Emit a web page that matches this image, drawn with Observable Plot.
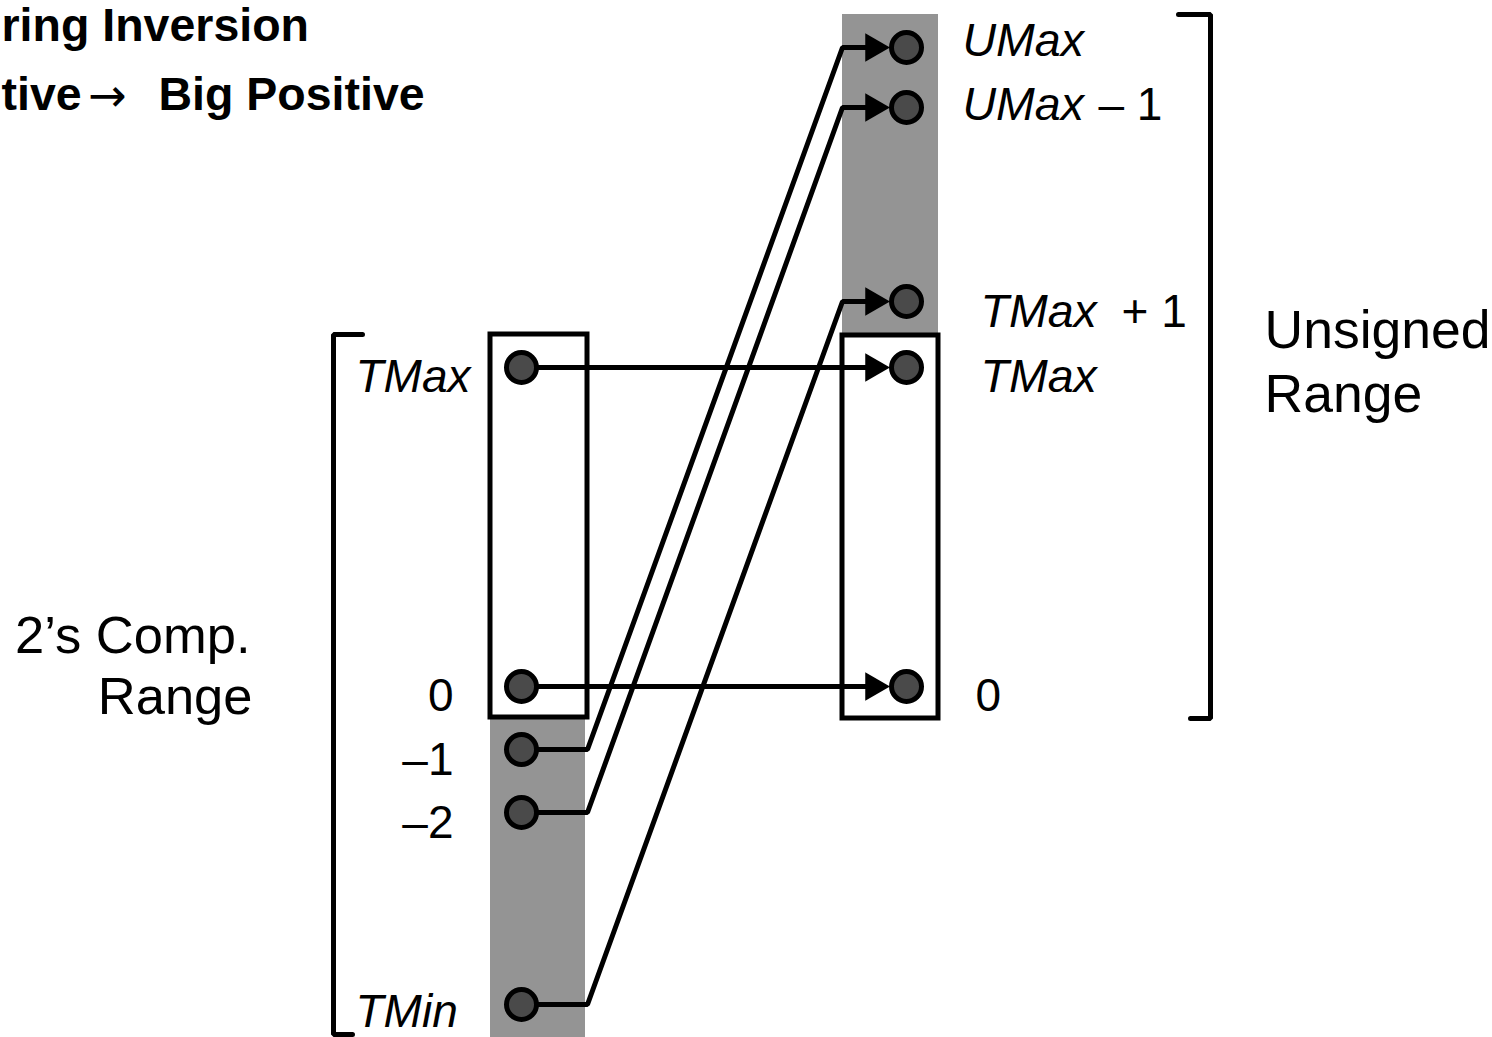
<!DOCTYPE html>
<html>
<head>
<meta charset="utf-8">
<script src="https://cdn.jsdelivr.net/npm/d3@7"></script>
<script src="https://cdn.jsdelivr.net/npm/@observablehq/plot@0.6"></script>
<style>
  html, body { margin: 0; padding: 0; background: #fff; overflow: hidden; }
</style>
</head>
<body>
<div id="chart"></div>
<script>
// ---- Data (diagram units, y grows downward) ----
const titleWords = ["ring Inversion", "tive", "\u2192", "Big Positive"];

// two's-complement column (left)
const leftNames  = ["TMax", "0", "\u20131", "\u20132", "TMin"];
const leftLevels = [367, 686, 749, 812, 1004];
const leftLabelY = [391, 710, 774, 837, 1026];

// unsigned column (right)
const rightNames  = ["UMax", "UMax", "TMax", "TMax", "0"];
const rightSuffix = ["", "\u2013 1", "+ 1", "", ""];
const rightLevels = [47, 107, 301, 367, 686];
const rightLabelY = [55, 119, 326, 391, 710];

// mapping: left index -> right index
const mapFrom = [0, 1, 2, 3, 4];
const mapTo   = [3, 4, 0, 1, 2];

// range labels
const rangeLabels = ["2\u2019s Comp.", "Range", "Unsigned", "Range"];

// ---- Layout (diagram units) ----
const W = 1492, H = 1037;
const L = {leftX: 521, rightX: 906, leftBoxX1: 490, leftBoxX2: 587, rightBoxX1: 842, rightBoxX2: 938,
           tipX: 889, top: 14, boxTop: 334, boxBottom: 717, bottom: 1037};
const SW = 5;

const edges = [];
mapFrom.forEach((f, i) => {
  const t = mapTo[i], ys = leftLevels[f], yt = rightLevels[t];
  edges.push({id: i, x: L.leftX, y: ys});
  edges.push({id: i, x: L.leftBoxX2, y: ys});
  edges.push({id: i, x: L.rightBoxX1, y: yt});
  edges.push({id: i, x: L.tipX - 16, y: yt});
});
const heads = mapTo.map(t => ({x: L.tipX - 16, y: rightLevels[t]}));

const nodes = [
  ...leftLevels.map(y => ({x: L.leftX, y})),
  ...rightLevels.map(y => ({x: L.rightX, y}))
];

const greyBands = [
  {x1: L.rightBoxX1, x2: L.rightBoxX2, y1: L.top, y2: L.boxTop},
  {x1: L.leftBoxX1, x2: L.leftBoxX2 - 2, y1: L.boxBottom, y2: L.bottom}
];
const boxes = [
  {x1: L.leftBoxX1, x2: L.leftBoxX2, y1: L.boxTop, y2: L.boxBottom},
  {x1: L.rightBoxX1, x2: L.rightBoxX2, y1: L.boxTop + 1, y2: L.boxBottom + 1}
];
const brackets = [
  {id: "l", x: 362, y: 334}, {id: "l", x: 333, y: 334}, {id: "l", x: 333, y: 1034}, {id: "l", x: 352, y: 1034},
  {id: "r", x: 1178, y: 14}, {id: "r", x: 1210, y: 14}, {id: "r", x: 1210, y: 718}, {id: "r", x: 1190, y: 718}
];

const leftText = leftNames.map((name, i) => ({name, y: leftLabelY[i]}));
const rightMain = rightNames.map((name, i) => ({
  name, y: rightLabelY[i], x: (i === 0 || i === 1) ? 962 : (name === "0" ? 975 : 980)
}));
const rightSuf = rightSuffix.map((s, i) => ({s, y: rightLabelY[i], x: i === 1 ? 1098 : 1121})).filter(d => d.s);
const rangeText = [
  {t: rangeLabels[0], x: 250, y: 652},
  {t: rangeLabels[1], x: 252, y: 713},
  {t: rangeLabels[2], x: 1264, y: 347},
  {t: rangeLabels[3], x: 1264, y: 411}
];

const txt = {lineAnchor: "bottom", fill: "#000"};
const chart = Plot.plot({
  width: W, height: H,
  margin: 0,
  x: {domain: [0, W], range: [0, W], axis: null},
  y: {domain: [0, H], range: [0, H], axis: null},
  style: {fontFamily: "'Liberation Sans', Arial, sans-serif", background: "#fff", overflow: "visible"},
  marks: [
    Plot.rect(greyBands, {x1: "x1", x2: "x2", y1: "y1", y2: "y2", fill: "#949494"}),
    Plot.rect(boxes, {x1: "x1", x2: "x2", y1: "y1", y2: "y2", fill: "none", stroke: "#000", strokeWidth: SW}),
    Plot.line(edges, {x: "x", y: "y", z: "id", stroke: "#000", strokeWidth: SW, curve: "linear", strokeLinejoin: "miter"}),
    Plot.dot(heads, {x: "x", y: "y", symbol: "triangle", r: 10.6, rotate: 90, fill: "#000", stroke: "none"}),
    Plot.dot(nodes, {x: "x", y: "y", r: 15, fill: "#4a4a4a", stroke: "#000", strokeWidth: SW}),
    Plot.line(brackets, {x: "x", y: "y", z: "id", stroke: "#000", strokeWidth: SW, strokeLinejoin: "miter"}),
    // left column labels
    Plot.text(leftText.filter((d, i) => i === 0), {x: () => 470, y: "y", text: "name", textAnchor: "end", fontSize: 46, fontStyle: "italic", ...txt}),
    Plot.text(leftText.filter((d, i) => i === 4), {x: () => 355, y: "y", text: "name", textAnchor: "start", fontSize: 46, fontStyle: "italic", ...txt}),
    Plot.text(leftText.filter((d, i) => i > 0 && i < 4), {x: () => 453, y: "y", text: "name", textAnchor: "end", fontSize: 46, ...txt}),
    // right column labels
    Plot.text(rightMain.filter(d => d.name !== "0"), {x: "x", y: "y", text: "name", textAnchor: "start", fontSize: 46.5, fontStyle: "italic", ...txt}),
    Plot.text(rightMain.filter(d => d.name === "0"), {x: "x", y: "y", text: "name", textAnchor: "start", fontSize: 46, ...txt}),
    Plot.text(rightSuf, {x: "x", y: "y", text: "s", textAnchor: "start", fontSize: 46, ...txt}),
    // range labels
    Plot.text(rangeText.slice(0, 2), {x: "x", y: "y", text: "t", textAnchor: "end", fontSize: 52.5, ...txt}),
    Plot.text(rangeText.slice(2), {x: "x", y: "y", text: "t", textAnchor: "start", fontSize: 53.5, ...txt}),
    // title (cropped at the left edge as in the source slide)
    Plot.text([titleWords[0]], {x: () => 1, y: () => 40, text: d => d, textAnchor: "start", fontSize: 46.5, fontWeight: "bold", ...txt}),
    Plot.text([titleWords[1]], {x: () => 1, y: () => 109, text: d => d, textAnchor: "start", fontSize: 46.5, fontWeight: "bold", ...txt}),
    Plot.text([titleWords[2]], {x: () => 107, y: () => 110, text: d => d, textAnchor: "middle", fontSize: 46, fontFamily: "'DejaVu Sans', sans-serif", ...txt}),
    Plot.text([titleWords[3]], {x: () => 158, y: () => 109, text: d => d, textAnchor: "start", fontSize: 46.5, fontWeight: "bold", ...txt})
  ]
});
document.getElementById("chart").append(chart);
</script>
</body>
</html>
